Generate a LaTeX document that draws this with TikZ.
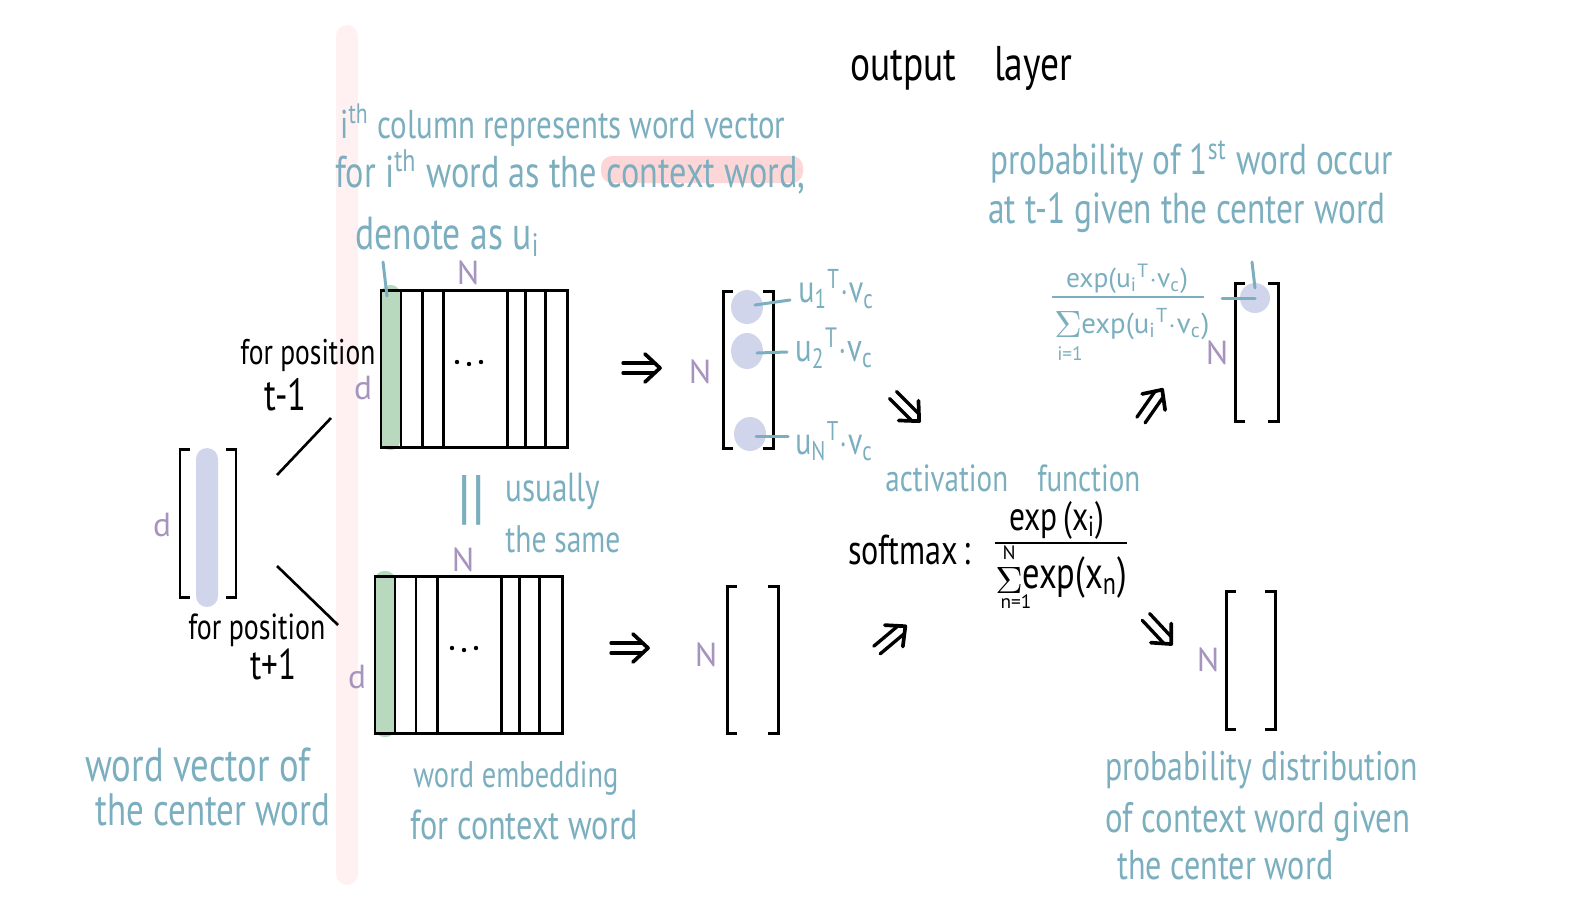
\documentclass[tikz,border=0pt]{standalone}
\usepackage{fontspec}
\usepackage{amsmath}
\usepackage{graphicx}
\setmainfont{PT Sans}
\usetikzlibrary{arrows.meta}
\definecolor{hblue}{RGB}{123,174,190}
\definecolor{hpurple}{RGB}{166,147,190}
\definecolor{hlav}{RGB}{208,213,236}
\definecolor{hgreen}{RGB}{185,217,190}
\definecolor{hband}{RGB}{255,241,241}
\definecolor{hpink}{RGB}{253,215,215}
\newlength\px
\setlength\px{0.02cm}
\newcommand\hw[2]{\resizebox{#1\px}{!}{\scalebox{1}[1.3]{#2}}}
\newcommand\hf[2]{\resizebox{#1\px}{!}{#2}}
\newcommand\uv[1]{u$_{\text{#1}}{}^{\text{T}}{\cdot}$v$_{\text{c}}$}
\tikzset{
  hb/.style={text=hblue, inner sep=0pt, anchor=west},
  bk/.style={text=black, inner sep=0pt, anchor=west},
  pl/.style={text=hpurple, inner sep=0pt, font=\fontsize{19}{19}\selectfont},
  ink/.style={line width=1.7pt, black},
  bink/.style={line width=1.7pt, hblue, line cap=round},
  brk/.style={line width=1.7pt, black},
  darr/.pic={
    \draw[line width=1.9pt, line cap=round] (0,-5) -- (31,-5) (0,5) -- (31,5);
    \draw[line width=2.1pt, line cap=round, line join=round] (22,-14) -- (37,0) -- (22,14);
  }
}
\begin{document}
\begin{tikzpicture}[x=0.02cm,y=-0.02cm]
\useasboundingbox (0,0) rectangle (1571,910);
% pink band
\fill[hband, rounded corners=0.22cm] (336,25) rectangle (358,885);

% title
\node[bk] (title) at (850,68) {\hw{222}{output\quad layer}};

% top-left blue text
\fill[hpink, rounded corners=0.22cm] (601,156) rectangle (803,183);
\node[hb] (t1) at (340,125) {\hw{445}{i\textsuperscript{th} column represents word vector}};
\node[hb] (t2) at (335,172) {\hw{470}{for i\textsuperscript{th} word as the context word,}};
\node[hb] (t3) at (355,237) {\hw{185}{denote as u$_{\text{i}}$}};

% left vector
\fill[hlav, rounded corners=0.22cm] (196,448) rectangle (218,607);
\draw[brk] (190,449) -- (180,449) -- (180,597) -- (190,597);
\draw[brk] (226,449) -- (236,449) -- (236,597) -- (226,597);
\node[pl] (dL) at (162,525) {d};
\coordinate (lv1) at (277,475); \coordinate (lv2) at (277,566);
\coordinate (m1) at (331,418); \coordinate (m2) at (338,625);
\draw[line width=1.5pt] (lv1) -- (m1);
\draw[line width=1.5pt] (lv2) -- (m2);
\node[bk] (fp1) at (240,355) {\hw{135}{for position}};
\node[bk] (tm1) at (264,395) {\hw{42}{t-1}};
\node[bk] (fp2) at (188,630) {\hw{137}{for position}};
\node[bk] (tp1) at (250,664) {\hw{46}{t+1}};
\node[hb] (w1) at (85,765) {\hw{225}{word vector of}};
\node[hb] (w2) at (95,810) {\hw{235}{the center word}};

% top matrix
\fill[hgreen, rounded corners=0.18cm] (381,285) rectangle (400,450);
\draw[ink] (381,290) rectangle (567,447);
\foreach \xx in {401,422,443,507,525,545} \draw[ink] (\xx,290) -- (\xx,447);
\foreach \xx/\yy in {457/362,469/364,481/362} \fill (\xx,\yy) circle (2.2);
\draw[bink] (383,262) -- (387,296);
\node[pl] (Nt) at (468,273) {N};
\node[pl] (dt) at (363,388) {d};

% bottom matrix
\fill[hgreen, rounded corners=0.18cm] (375,571) rectangle (395,737);
\draw[ink] (375,576) rectangle (562,733);
\foreach \xx in {395,416,437,501,519,539} \draw[ink] (\xx,576) -- (\xx,733);
\foreach \xx/\yy in {452/648,464/650,476/648} \fill (\xx,\yy) circle (2.2);
\node[pl] (Nb) at (463,560) {N};
\node[pl] (db) at (357,677) {d};
\node[hb] (eq) at (457,500) {\resizebox{!}{42\px}{||}};
\node[hb] (us1) at (505,491) {\hw{95}{usually}};
\node[hb] (us2) at (505,539) {\hw{115}{the same}};
\node[hb] (we1) at (413,778) {\hw{205}{word embedding}};
\node[hb] (we2) at (410,825) {\hw{227}{for context word}};

% arrows matrix -> vector
\pic (a1) at (623,368) {darr};
\pic (a2) at (611,648) {darr};

% top score vector
\fill[hlav] (747,307) ellipse [x radius=16, y radius=17];
\fill[hlav] (747,351) ellipse [x radius=16, y radius=18];
\fill[hlav] (750,434) ellipse [x radius=16, y radius=17];
\draw[brk] (733,291) -- (723,291) -- (723,448) -- (733,448);
\draw[brk] (763,291) -- (773,291) -- (773,448) -- (763,448);
\node[pl] (Nv) at (700,372) {N};
\draw[bink] (755,305) -- (790,300);
\draw[bink] (757,353) -- (787,352);
\draw[bink] (756,436) -- (788,436);
\node[hb] (u1) at (798,289) {\hw{76}{\uv{1}}};
\node[hb] (u2) at (795,348) {\hw{78}{\uv{2}}};
\node[hb] (uN) at (795,441) {\hw{78}{\uv{N}}};

% bottom score vector
\draw[brk] (737,586) -- (727,586) -- (727,733) -- (737,733);
\draw[brk] (768,586) -- (778,586) -- (778,733) -- (768,733);
\node[pl] (Nv2) at (706,655) {N};

% activation
\pic[rotate=-45] (a3) at (893,395) {darr};
\pic[rotate=40] (a4) at (877,650) {darr};
\node[hb] (act) at (885,478) {\hw{255}{activation\quad function}};
\node[bk] (soft) at (848,550) {\hw{122}{softmax\,:}};
\node[bk, anchor=center] (snum) at (1057,520) {\hw{95}{exp\,(x$_{\text{i}}$)}};
\coordinate (sb1) at (995,543); \coordinate (sb2) at (1127,543);
\draw[line width=1.5pt] (sb1) -- (sb2);
\node[bk, anchor=center] (ssig) at (1009,580) {\resizebox{!}{26\px}{$\Sigma$}};
\node[bk, anchor=center, font=\fontsize{11}{11}\selectfont] (sN) at (1009,553) {N};
\node[bk, anchor=center, font=\fontsize{11}{11}\selectfont] (sn1) at (1016,602) {n=1};
\node[bk] (sden) at (1022,577) {\hw{105}{exp(x$_{\text{n}}$)}};

% top-right probability
\node[hb] (p1) at (990,162) {\hw{402}{probability of 1\textsuperscript{st} word occur}};
\node[hb] (p2) at (988,213) {\hw{397}{at t-1 given the center word}};
\node[hb, anchor=center] (fnum) at (1127,279) {\hf{122}{exp(\uv{i})}};
\coordinate (fb1) at (1052,297); \coordinate (fb2) at (1204,297);
\draw[line width=1.5pt, hblue] (fb1) -- (fb2);
\node[hb, anchor=center] (fsig) at (1068,324) {\resizebox{!}{26\px}{$\Sigma$}};
\node[hb] (fden) at (1081,324) {\hf{128}{exp(\uv{i})}};
\node[hb, anchor=center, font=\fontsize{11}{11}\selectfont] (fi1) at (1070,354) {i=1};
\fill[hlav] (1255,298) circle (15);
\draw[brk] (1245,283) -- (1235,283) -- (1235,421) -- (1245,421);
\draw[brk] (1268,283) -- (1278,283) -- (1278,421) -- (1268,421);
\coordinate (tk1) at (1222,298); \coordinate (tk2) at (1255,298);
\draw[bink] (tk1) -- (tk2);
\draw[bink] (1252,262) -- (1255,288);
\node[pl] (Nr) at (1217,353) {N};
\pic[rotate=55] (a5) at (1141,420) {darr};

% bottom-right distribution
\pic[rotate=-47] (a6) at (1146,617) {darr};
\draw[brk] (1236,591) -- (1226,591) -- (1226,729) -- (1236,729);
\draw[brk] (1265,591) -- (1275,591) -- (1275,729) -- (1265,729);
\node[pl] (Nr2) at (1208,660) {N};
\node[hb] (d1) at (1105,770) {\hw{313}{probability distribution}};
\node[hb] (d2) at (1105,822) {\hw{305}{of context word given}};
\node[hb] (d3) at (1117,865) {\hw{216}{the center word}};
\end{tikzpicture}
\end{document}
